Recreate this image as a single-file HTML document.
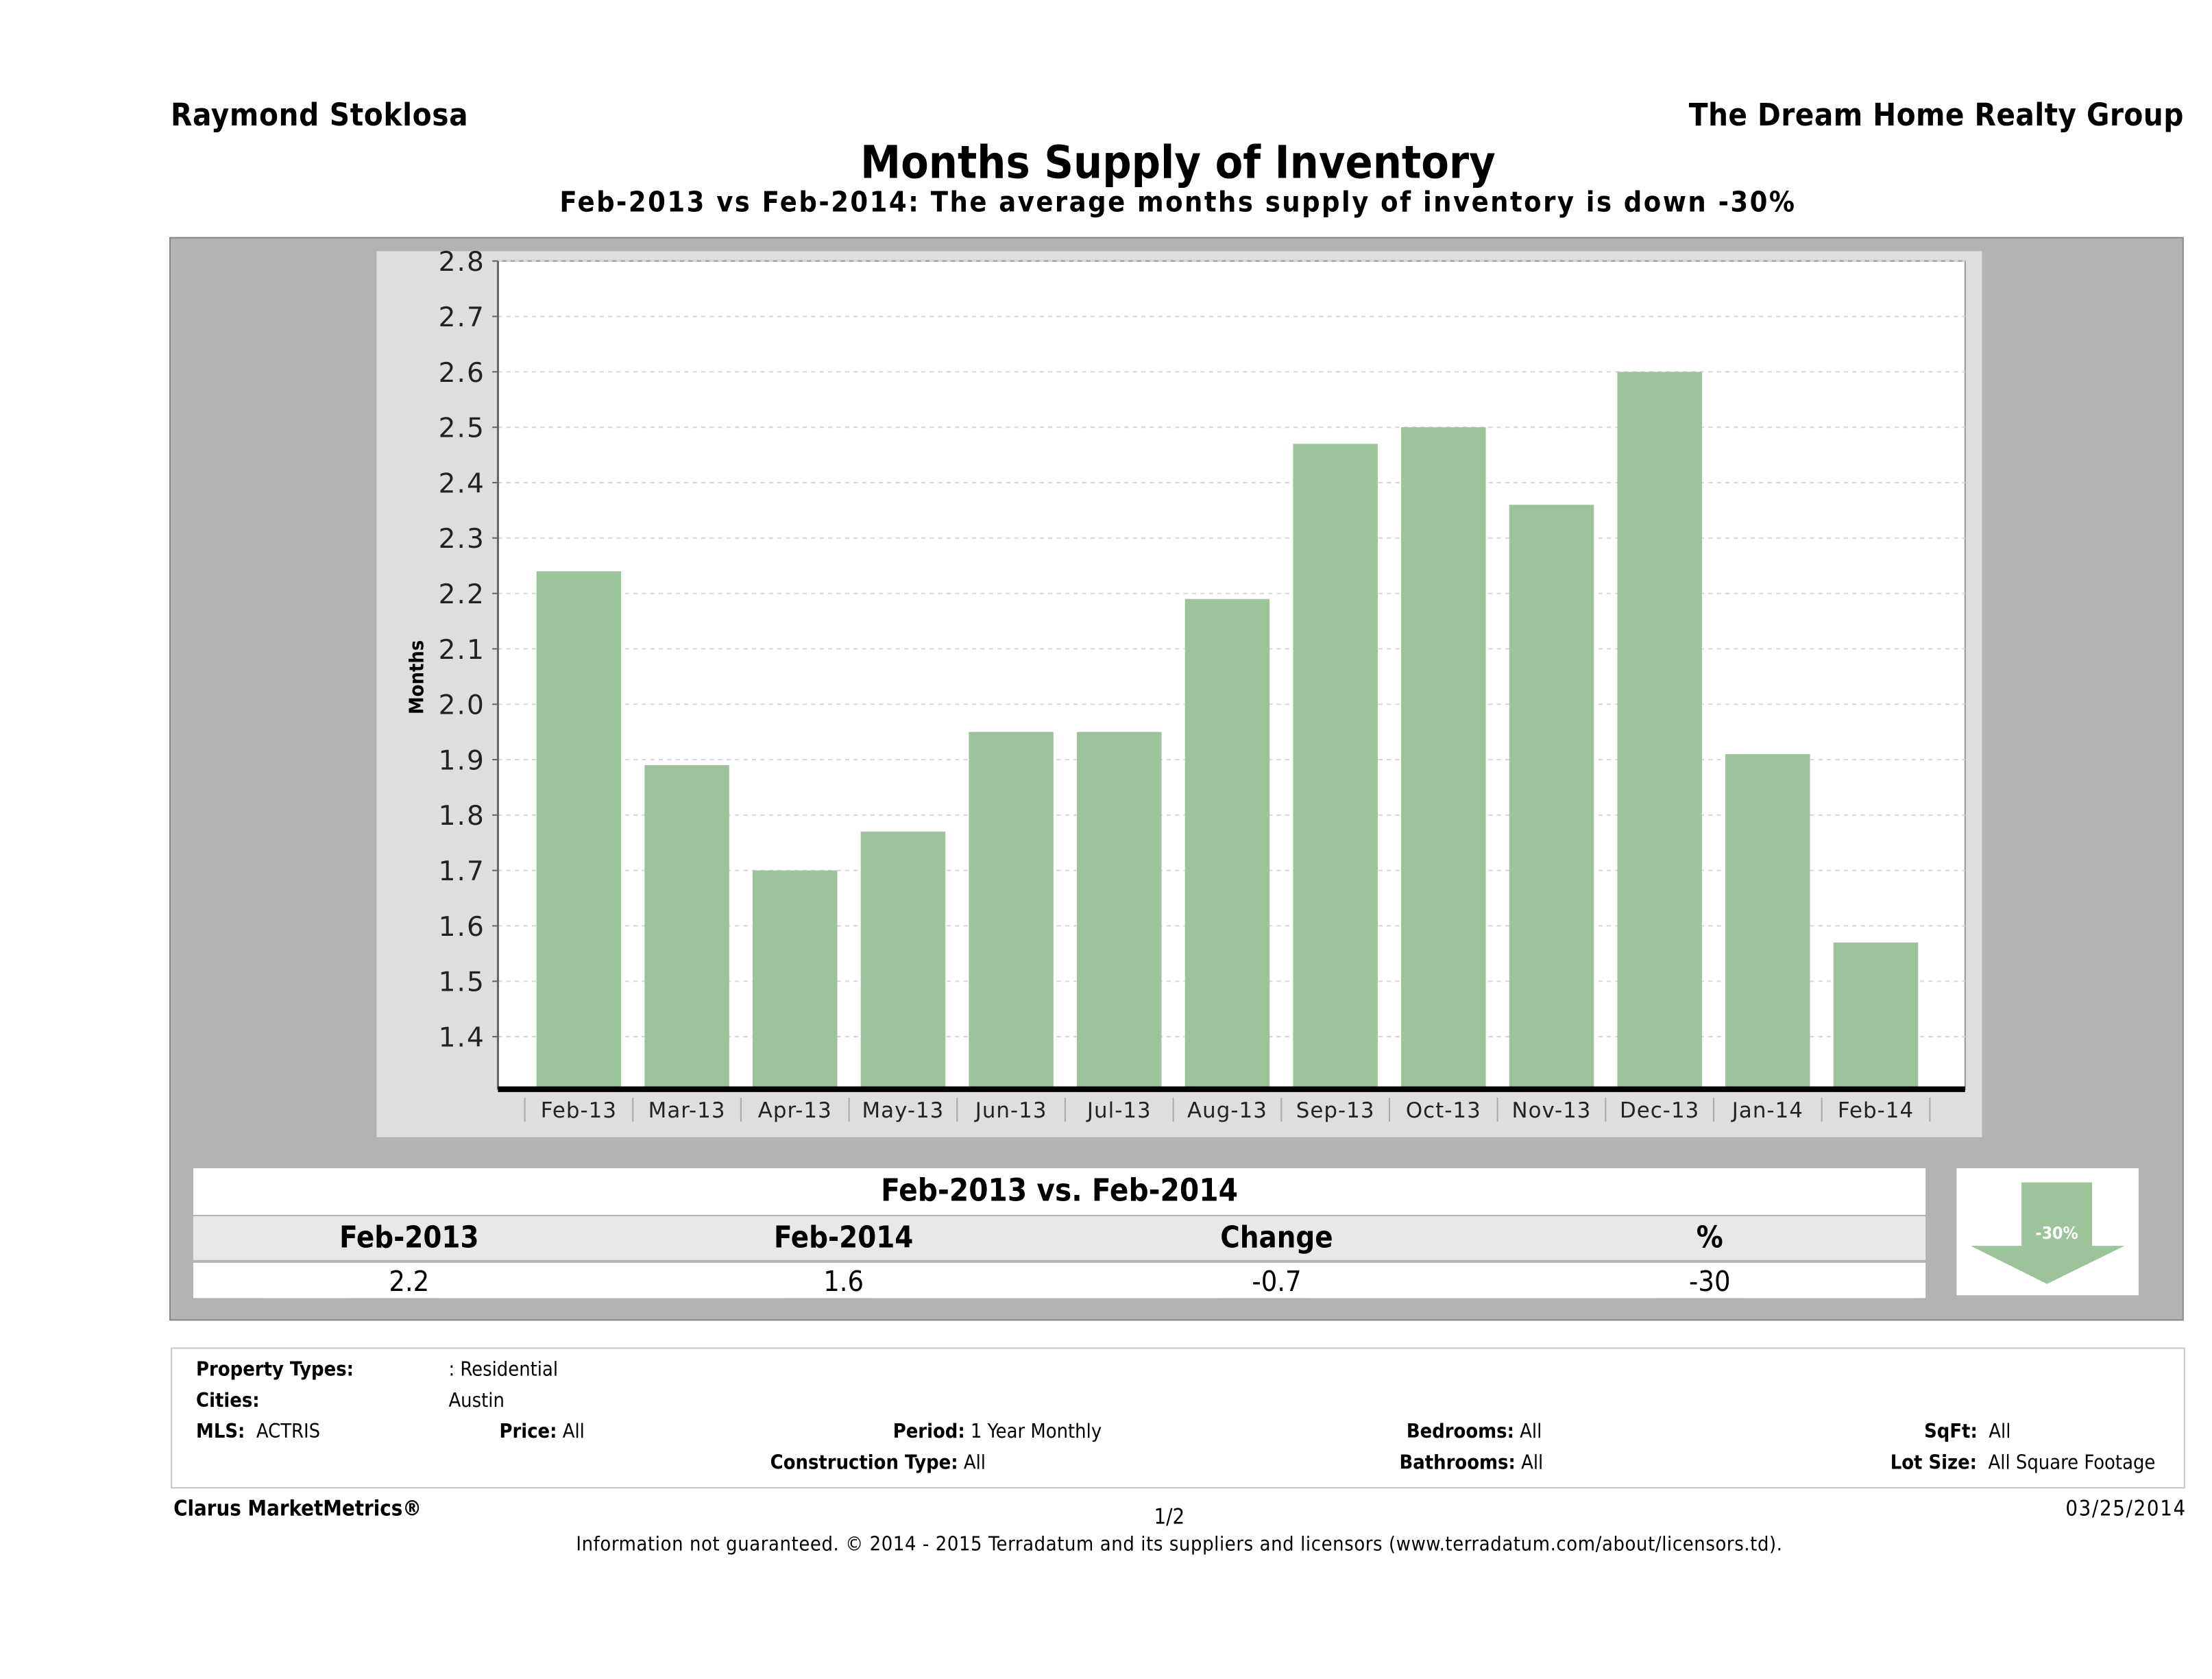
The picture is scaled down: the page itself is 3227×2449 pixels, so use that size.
<!DOCTYPE html>
<html><head><meta charset="utf-8"><style>
html,body{margin:0;padding:0;background:#fff;width:3227px;height:2448px;overflow:hidden}
#root{position:absolute;left:0;top:0;width:1568px;height:1190px;transform:scale(2.058);transform-origin:0 0;font-family:"DejaVu Sans Condensed","DejaVu Sans","Liberation Sans",sans-serif;color:#000}
.a{position:absolute;white-space:nowrap}
.b{font-weight:bold}
</style></head><body><div id="root">
<div class="a b" style="left:121px;top:70px;font-size:22px;letter-spacing:0.3px">Raymond Stoklosa</div>
<div class="a b" style="right:20px;top:70px;font-size:22px;letter-spacing:0.2px">The Dream Home Realty Group</div>
<div class="a b" style="left:0;width:1670px;text-align:center;top:96px;font-size:32px">Months Supply of Inventory</div>
<div class="a b" style="left:0;width:1670px;text-align:center;top:131px;font-size:20px;letter-spacing:1.2px">Feb-2013 vs Feb-2014: The average months supply of inventory is down -30%</div>
<div class="a" style="left:120px;top:168px;width:1426px;height:766px;background:#b3b3b3;border:1px solid #8a8a8a"></div>
<div class="a" style="left:267px;top:178px;width:1138px;height:628px;background:#dedede"></div>
<svg class="a" id="chart" style="left:0;top:0" width="1550" height="830"></svg>
<div class="a b" style="left:137px;top:828px;width:1228px;height:33px;background:#fff;text-align:center;font-size:22px;line-height:34px">Feb-2013 vs. Feb-2014</div>
<div class="a" style="left:137px;top:862px;width:1228px;height:31px;background:#e8e8e8"></div>
<div class="a" style="left:137px;top:895px;width:1228px;height:25px;background:#fff"></div>
<div id="cmp"></div>
<div class="a" style="left:1387px;top:828px;width:129px;height:90px;background:#fff">
<svg width="129" height="90"><polygon points="46,10 96,10 96,55 119,55 64,82 10,55 46,55" fill="#9dc39a"/><text x="71" y="50" font-size="12" fill="#fff" text-anchor="middle" font-weight="bold" font-family="DejaVu Sans Condensed, sans-serif">-30%</text></svg></div>
<div class="a" style="left:121px;top:955px;width:1426px;height:98px;border:1px solid #c8c8c8;background:#fff"></div>
<div style="font-size:14px">
<div class="a b" style="left:139px;top:963px">Property Types:</div>
<div class="a" style="left:318px;top:963px">: Residential</div>
<div class="a b" style="left:139px;top:985px">Cities:</div>
<div class="a" style="left:318px;top:985px">Austin</div>
<div class="a" style="left:139px;top:1007px"><b>MLS:</b>&nbsp; ACTRIS</div>
<div class="a" style="left:354px;top:1007px"><b>Price:</b> All</div>
<div class="a" style="left:633px;top:1007px"><b>Period:</b> 1 Year Monthly</div>
<div class="a" style="left:997px;top:1007px"><b>Bedrooms:</b> All</div>
<div class="a" style="left:1364px;top:1007px"><b>SqFt:</b>&nbsp; All</div>
<div class="a" style="left:546px;top:1029px"><b>Construction Type:</b> All</div>
<div class="a" style="left:992px;top:1029px"><b>Bathrooms:</b> All</div>
<div class="a" style="left:1340px;top:1029px"><b>Lot Size:</b>&nbsp; All Square Footage</div>
</div>
<div class="a b" style="left:123px;top:1060px;font-size:15px">Clarus MarketMetrics®</div>
<div class="a" style="left:818px;top:1066px;font-size:15px">1/2</div>
<div class="a" style="right:18px;top:1060px;font-size:15px;letter-spacing:0.8px">03/25/2014</div>
<div class="a" style="left:0;width:1672px;text-align:center;top:1087px;font-size:14px;letter-spacing:0.3px">Information not guaranteed. © 2014 - 2015 Terradatum and its suppliers and licensors (www.terradatum.com/about/licensors.td).</div>
</div>
<script>
const categories=["Feb-13","Mar-13","Apr-13","May-13","Jun-13","Jul-13","Aug-13","Sep-13","Oct-13","Nov-13","Dec-13","Jan-14","Feb-14"];
const values=[2.24,1.89,1.70,1.77,1.95,1.95,2.19,2.47,2.50,2.36,2.60,1.91,1.57];
const yTicks=[1.4,1.5,1.6,1.7,1.8,1.9,2.0,2.1,2.2,2.3,2.4,2.5,2.6,2.7,2.8];
const cmpHeaders=["Feb-2013","Feb-2014","Change","%"];
const cmpValues=["2.2","1.6","-0.7","-30"];
const NS="http://www.w3.org/2000/svg";
const svg=document.getElementById('chart');
const X0=353,X1=1393,Y0=185,yMin=1.3,yMax=2.8,YB=774;
const catStart=372,catEnd=1368;
const cw=(catEnd-catStart)/categories.length;
function y(v){return YB-(v-yMin)/(yMax-yMin)*(YB-Y0);}
function xc(i){return catStart+cw*(i+0.5);}
function mk(t,a){const e=document.createElementNS(NS,t);for(const k in a)e.setAttribute(k,a[k]);svg.appendChild(e);return e;}
let e=mk('rect',{x:X0,y:Y0,width:X1-X0,height:772-Y0,fill:'#fff',stroke:'#999','stroke-width':1});


yTicks.forEach(t=>{
 let g=mk('line',{x1:X0,x2:X1,y1:y(t),y2:y(t),stroke:'#d8d8d8','stroke-dasharray':'3,3'});
 
 
 mk('line',{x1:X0-4,x2:X0,y1:y(t),y2:y(t),stroke:'#666'});
 let l=mk('text',{x:X0-9,y:y(t)+7,'font-size':19,'text-anchor':'end',fill:'#222','font-family':'DejaVu Sans, sans-serif','letter-spacing':'1'});
 l.textContent=t.toFixed(1);
 
 
});
mk('line',{x1:X0,x2:X0,y1:Y0,y2:772,stroke:'#666','stroke-width':1.5});
values.forEach((v,i)=>{
 let r=mk('rect',{x:xc(i)-30,y:y(v),width:60,height:772-y(v),fill:'#9dc39a'});
 
 
});
mk('line',{x1:X0,x2:X1,y1:772,y2:772,stroke:'#000','stroke-width':4});
for(let i=0;i<=categories.length;i++){mk('line',{x1:catStart+cw*i,x2:catStart+cw*i,y1:778,y2:795,stroke:'#aaa'});}
categories.forEach((c,i)=>{
 let t=mk('text',{x:xc(i),y:792,'font-size':15,'text-anchor':'middle',fill:'#222','font-family':'DejaVu Sans, sans-serif','letter-spacing':'0.5'});
 t.textContent=c;
 
 
});
let yt=mk('text',{x:0,y:0,'font-size':14,'font-weight':'bold','text-anchor':'middle','font-family':'DejaVu Sans Condensed, sans-serif',transform:'translate(300,480) rotate(-90)'});
yt.textContent='Months';


const cmp=document.getElementById('cmp');
const centers=[290,598,905,1212];
cmpHeaders.forEach((h,i)=>{
 let d=document.createElement('div');d.className='a';d.style.cssText='left:'+(centers[i]-100)+'px;width:200px;text-align:center;top:865px;font-size:21px;font-weight:bold';d.textContent=h;
 
 
 cmp.appendChild(d);
 let v=document.createElement('div');v.className='a';v.style.cssText='left:'+(centers[i]-100)+'px;width:200px;text-align:center;top:896px;font-size:20px';v.textContent=cmpValues[i];
 
 
 cmp.appendChild(v);
});
</script>
</body></html>
